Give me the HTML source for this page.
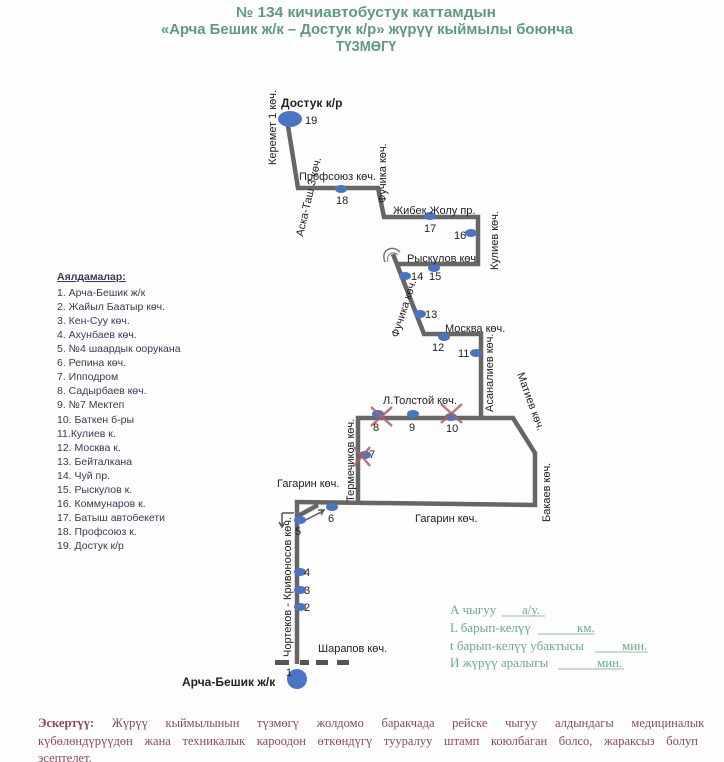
<!DOCTYPE html>
<html><head><meta charset="utf-8"><style>
body{margin:0;background:#fff;}
svg{display:block;font-family:"Liberation Sans",sans-serif;}
</style></head><body>
<svg width="724" height="762" viewBox="0 0 724 762" xmlns="http://www.w3.org/2000/svg">
<rect width="724" height="762" fill="#fdfdfd"/>
<g fill="#5e9a7c" font-weight="bold" font-size="14.5" text-anchor="middle">
<text x="366" y="17" textLength="260" lengthAdjust="spacingAndGlyphs">№ 134  кичиавтобустук каттамдын</text>
<text x="367" y="34" textLength="412" lengthAdjust="spacingAndGlyphs">«Арча Бешик ж/к – Достук к/р» жүрүү кыймылы боюнча</text>
<text x="366" y="51" textLength="60" lengthAdjust="spacingAndGlyphs">ТҮЗМӨГҮ</text>
</g>
<g fill="none" stroke="#666" stroke-width="4.5" stroke-linejoin="miter">
<polyline points="288,126 298,188 378,188 384,217 478,217 478,264 396,264"/>
<polyline points="393,254 424,334 481,334 481,418"/>
<polyline points="358,502 358,418 513,418 535,453 535,505 297,502 297,664"/>
<line x1="298" y1="516" x2="318" y2="505"/>
</g>
<g fill="none" stroke="#555" stroke-width="1.5">
<line x1="302" y1="522" x2="323" y2="511"/>
<path d="M318,510 L324,510 L321,515"/>
<line x1="282" y1="513" x2="282" y2="527"/>
<line x1="282" y1="513" x2="294" y2="513"/>
<path d="M279,522 L282,527 L285,522"/>
</g>
<path d="M385,262 C380,250 392,244 400,252" fill="none" stroke="#777" stroke-width="1.5"/>
<path d="M388,262 C386,254 393,250 398,255" fill="none" stroke="#777" stroke-width="1"/>
<g fill="#555"><rect x="275" y="660" width="14" height="5"/><rect x="300" y="660" width="9" height="5"/><rect x="316" y="660" width="12" height="5"/><rect x="337" y="660" width="12" height="5"/></g>
<g fill="#4a74c4">
<ellipse cx="290" cy="119" rx="12" ry="8"/>
<ellipse cx="341" cy="189" rx="6" ry="4"/>
<ellipse cx="430" cy="216" rx="6" ry="4"/>
<ellipse cx="471" cy="233" rx="6" ry="4"/>
<ellipse cx="434" cy="268" rx="6" ry="4"/>
<ellipse cx="405" cy="276" rx="6" ry="4"/>
<ellipse cx="420" cy="314" rx="6" ry="4"/>
<ellipse cx="444" cy="337" rx="6" ry="4"/>
<ellipse cx="476" cy="353" rx="6" ry="4"/>
<ellipse cx="378" cy="414" rx="6" ry="4"/>
<ellipse cx="413" cy="414" rx="6" ry="4"/>
<ellipse cx="451" cy="417" rx="6" ry="4"/>
<ellipse cx="365" cy="455" rx="6" ry="4"/>
<ellipse cx="332" cy="507" rx="6" ry="4"/>
<ellipse cx="300" cy="520" rx="6" ry="4"/>
<ellipse cx="300" cy="572" rx="6" ry="4"/>
<ellipse cx="300" cy="590" rx="6" ry="4"/>
<ellipse cx="300" cy="607" rx="6" ry="4"/>
<circle cx="297" cy="679" r="10"/>
</g>
<g stroke="#b06060" stroke-width="2.5" opacity="0.85">
<line x1="371" y1="407" x2="392" y2="426"/><line x1="392" y1="407" x2="371" y2="426"/>
<line x1="441" y1="404" x2="462" y2="423"/><line x1="462" y1="404" x2="441" y2="423"/>
<line x1="354" y1="447" x2="370" y2="466"/><line x1="370" y1="447" x2="354" y2="466"/>
</g>
<g fill="#222" font-size="11">
<text x="305" y="124">19</text>
<text x="336" y="204">18</text>
<text x="424" y="232">17</text>
<text x="454" y="239">16</text>
<text x="411" y="280">14</text>
<text x="429" y="280">15</text>
<text x="425" y="318">13</text>
<text x="432" y="351">12</text>
<text x="458" y="357">11</text>
<text x="373" y="431">8</text>
<text x="409" y="431">9</text>
<text x="446" y="432">10</text>
<text x="369" y="458">7</text>
<text x="328" y="522">6</text>
<text x="295" y="535">5</text>
<text x="304" y="576">4</text>
<text x="304" y="594">3</text>
<text x="304" y="611">2</text>
<text x="286" y="676">1</text>
<text x="281" y="107" font-weight="bold" font-size="12">Достук к/р</text>
<text x="182" y="686" font-weight="bold" font-size="12">Арча-Бешик ж/к</text>
<text x="299" y="180">Профсоюз көч.</text>
<text x="393" y="214">Жибек Жолу пр.</text>
<text x="407" y="262">Рыскулов көч.</text>
<text x="445" y="332">Москва көч.</text>
<text x="383" y="404">Л.Толстой көч.</text>
<text x="277" y="487">Гагарин көч.</text>
<text x="415" y="522">Гагарин көч.</text>
<text x="318" y="652">Шарапов көч.</text>
<text transform="translate(276,165) rotate(-90)">Керемет 1 көч.</text>
<text transform="translate(303,237) rotate(-77)">Аска-Таш 3 көч.</text>
<text transform="translate(386,203) rotate(-90)">Фучика көч.</text>
<text transform="translate(398,338) rotate(-72)">Фучика көч.</text>
<text transform="translate(498,270) rotate(-90)">Кулиев көч.</text>
<text transform="translate(493,412) rotate(-90)">Асаналиев көч.</text>
<text transform="translate(517,374) rotate(70)">Матиев көч.</text>
<text transform="translate(550,522) rotate(-90)">Бакаев көч.</text>
<text transform="translate(354,502) rotate(-90)">Термечиков көч.</text>
<text transform="translate(291,657) rotate(-90)">Чортеков  - Кривоносов көч.</text>
</g>
<g fill="#3a3a55" font-size="10.5">
<text x="57" y="280" font-weight="bold" text-decoration="underline">Аялдамалар:</text>
<text x="57" y="296">1. Арча-Бешик ж/к</text>
<text x="57" y="310">2. Жайыл Баатыр көч.</text>
<text x="57" y="324">3. Кен-Суу көч.</text>
<text x="57" y="338">4. Ахунбаев көч.</text>
<text x="57" y="352">5. №4 шаардык оорукана</text>
<text x="57" y="366">6. Репина көч.</text>
<text x="57" y="380">7. Ипподром</text>
<text x="57" y="394">8. Садырбаев көч.</text>
<text x="57" y="408">9. №7 Мектеп</text>
<text x="57" y="423">10. Баткен б-ры</text>
<text x="57" y="437">11.Кулиев к.</text>
<text x="57" y="451">12. Москва к.</text>
<text x="57" y="465">13. Бейталкана</text>
<text x="57" y="479">14. Чуй пр.</text>
<text x="57" y="493">15. Рыскулов к.</text>
<text x="57" y="507">16.  Коммунаров к.</text>
<text x="57" y="521">17. Батыш автобекети</text>
<text x="57" y="535">18. Профсоюз к.</text>
<text x="57" y="549">19. Достук к/р</text>
</g>
<g fill="#6aaa88" font-family="Liberation Serif, serif" font-size="13">
<text x="450" y="614">А чыгуу</text><text x="522" y="614">а/у.</text>
<text x="450" y="632">L барып-келүү</text><text x="577" y="632">км.</text>
<text x="450" y="650">t барып-келүү убактысы</text><text x="622" y="650">мин.</text>
<text x="450" y="667">И жүрүү аралыгы</text><text x="597" y="667">мин.</text>
</g>
<g stroke="#6aaa88" stroke-width="0.8">
<line x1="502" y1="616" x2="545" y2="616"/>
<line x1="538" y1="634" x2="595" y2="634"/>
<line x1="595" y1="652" x2="648" y2="652"/>
<line x1="558" y1="669" x2="624" y2="669"/>
</g>
<g fill="#8a4a5a" font-family="Liberation Serif, serif" font-size="12.5">
<text x="38" y="727" word-spacing="14.5"><tspan font-weight="bold">Эскертүү:</tspan> Жүрүү кыймылынын түзмөгү жолдомо баракчада рейске чыгуу алдындагы медициналык</text>
<text x="38" y="745" word-spacing="8.5">күбөлөндүрүүдөн жана техникалык кароодон өткөндүгү тууралуу штамп коюлбаган болсо, жараксыз болуп</text>
<text x="38" y="762">эсептелет.</text>
</g>
</svg>
</body></html>
